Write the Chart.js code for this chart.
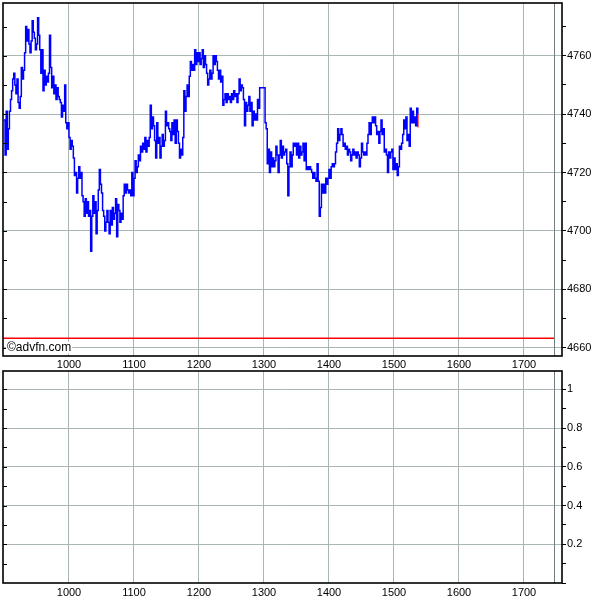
<!DOCTYPE html>
<html>
<head>
<meta charset="utf-8">
<script src="https://cdn.jsdelivr.net/npm/chart.js@4/dist/chart.umd.min.js"></script>
<style>
  html, body { margin: 0; padding: 0; background: #fff; }
  #wrap { position: relative; width: 600px; height: 600px; }
  canvas { position: absolute; left: 0; }
</style>
</head>
<body>
<div id="wrap">
  <canvas id="top" width="600" height="370" style="top:0"></canvas>
  <canvas id="bottom" width="600" height="230" style="top:370px"></canvas>
</div>
<script>
// ---- data (minutes since midnight on the x axis, one price per minute) ----
const startMinute = 540; // 09:00
const prices = [
  4738,4726,4741,4728,4735,4741,4745,4748,4752,4754,
  4750,4747,4752,4744,4742,4746,4756,4752,4755,4761,
  4770,4765,4769,4764,4761,4765,4772,4768,4766,4762,
  4764,4773,4767,4762,4754,4762,4748,4755,4750,4753,
  4751,4754,4767,4756,4749,4753,4747,4750,4745,4749,
  4746,4745,4744,4739,4743,4741,4750,4737,4735,4737,
  4732,4728,4731,4729,4725,4719,4720,4713,4718,4722,
  4718,4720,4712,4710,4705,4711,4706,4710,4705,4707,
  4693,4705,4712,4706,4710,4699,4707,4714,4721,4716,
  4713,4707,4705,4700,4703,4707,4703,4699,4707,4702,
  4708,4704,4706,4711,4698,4709,4707,4703,4706,4704,
  4712,4716,4713,4716,4714,4713,4714,4712,4720,4712,
  4718,4724,4720,4722,4726,4724,4729,4727,4730,4728,
  4732,4727,4731,4729,4732,4743,4735,4739,4736,4731,
  4725,4737,4730,4732,4725,4729,4733,4729,4731,4741,
  4736,4737,4735,4734,4731,4737,4733,4738,4730,4738,
  4734,4730,4725,4728,4726,4732,4748,4741,4746,4750,
  4746,4753,4758,4755,4757,4755,4762,4757,4761,4758,
  4761,4757,4759,4762,4756,4760,4757,4754,4750,4752,
  4755,4752,4754,4760,4757,4760,4758,4755,4752,4755,
  4751,4753,4743,4745,4747,4744,4747,4745,4746,4744,
  4747,4745,4748,4746,4747,4744,4747,4752,4748,4750,
  4749,4745,4736,4744,4741,4743,4746,4741,4744,4736,
  4741,4738,4740,4738,4745,4742,4749,4749,4749,4749,
  4749,4737,4735,4723,4728,4720,4727,4722,4725,4722,
  4724,4729,4726,4720,4726,4731,4725,4729,4726,4727,
  4728,4723,4712,4722,4727,4722,4726,4730,4729,4730,
  4726,4730,4725,4729,4726,4727,4730,4724,4730,4721,
  4722,4721,4722,4721,4720,4718,4720,4718,4717,4723,
  4717,4705,4708,4716,4713,4716,4713,4718,4716,4718,
  4721,4718,4722,4723,4722,4723,4727,4730,4735,4731,
  4733,4735,4733,4729,4730,4728,4729,4726,4728,4727,
  4724,4726,4728,4726,4727,4725,4727,4726,4722,4725,
  4730,4727,4726,4727,4726,4730,4733,4737,4733,4737,
  4739,4737,4739,4736,4733,4734,4730,4734,4738,4733,
  4735,4727,4728,4726,4720,4727,4725,4727,4728,4721,
  4725,4721,4723,4719,4722,4729,4728,4730,4733,4738,
  4735,4739,4731,4733,4729,4742,4737,4741,4737,4739,
  4736,4742,4740
];
const lastTick = [4740, 4735.5];       // final (red) trade
const previousClose = 4663.2;          // red reference line
const sessionEnd = 1048;               // dark vertical marker (minutes)
const hourTicks = [600, 660, 720, 780, 840, 900, 960, 1020];
const xRange = [539.08, 1055.08];
const priceRange = [4657.15, 4778.05];
const volumeRange = [0, 1.095];

// ---- styling ----
const GRID = '#aab6b6';
Chart.defaults.font.family = '"Liberation Sans", Arial, sans-serif';
Chart.defaults.font.size = 11;
Chart.defaults.color = '#000';

const hhmm = v => String(Math.floor(v / 60) * 100 + Math.round(v % 60));

const framePlugin = {
  id: 'frame',
  afterDatasetsDraw(chart, args, opts) {
    const { ctx, chartArea: a, scales } = chart;
    const x = scales.x, y = scales.y;
    ctx.save();
    // session end marker
    const sx = x.getPixelForValue(sessionEnd);
    ctx.strokeStyle = '#6f7f7f';
    ctx.lineWidth = 1;
    ctx.beginPath(); ctx.moveTo(Math.round(sx) + 0.5, a.top); ctx.lineTo(Math.round(sx) + 0.5, a.bottom); ctx.stroke();
    // inner left tick marks
    ctx.strokeStyle = '#000';
    for (let v = opts.tickStart; v <= y.max; v += opts.tickStep) {
      const py = Math.round(y.getPixelForValue(v)) + 0.5;
      if (py < a.top + 2 || py > a.bottom - 2) continue;
      ctx.beginPath(); ctx.moveTo(a.left, py); ctx.lineTo(a.left + 4, py); ctx.stroke();
    }
    // watermark
    if (opts.watermark) {
      ctx.font = '12px "Liberation Sans", Arial, sans-serif';
      const w = ctx.measureText(opts.watermark).width;
      const py = y.getPixelForValue(4660);
      ctx.fillStyle = '#fff';
      ctx.fillRect(a.left + 3, py - 6, w + 2, 12);
      ctx.fillStyle = '#000';
      ctx.textBaseline = 'middle';
      ctx.fillText(opts.watermark, a.left + 4, py + 0.5);
    }
    // frame
    ctx.strokeStyle = '#000';
    ctx.lineWidth = 1.6;
    ctx.strokeRect(a.left, a.top, a.right - a.left, a.bottom - a.top);
    ctx.restore();
  }
};

function xScale(height, pad) {
  return {
    type: 'linear', min: xRange[0], max: xRange[1],
    afterBuildTicks: s => { s.ticks = hourTicks.map(v => ({ value: v })); },
    ticks: { callback: v => hhmm(v), padding: pad, maxRotation: 0, autoSkip: false },
    grid: { color: GRID, drawTicks: false, lineWidth: 1 },
    border: { display: false },
    afterFit: s => { s.height = height; s.paddingLeft = 0; s.paddingRight = 0; }
  };
}

function yScale(range, step, isMajor, fmt) {
  return {
    type: 'linear', position: 'right', min: range[0], max: range[1],
    ticks: { stepSize: step, includeBounds: false, padding: 1, autoSkip: false,
             callback: v => isMajor(v) ? fmt(v) : '' },
    grid: { color: c => (c.tick && isMajor(c.tick.value)) ? GRID : 'rgba(0,0,0,0)',
            tickColor: '#000', tickLength: 4, lineWidth: 1 },
    border: { display: false },
    afterFit: s => { s.width = 38; s.paddingTop = 0; s.paddingBottom = 0; }
  };
}

const common = {
  responsive: false, animation: false, devicePixelRatio: 1,
  plugins: { legend: { display: false }, tooltip: { enabled: false } },
  events: []
};

new Chart(document.getElementById('top'), {
  type: 'line',
  data: {
    datasets: [
      { data: prices.map((v, i) => ({ x: startMinute + i, y: v })),
        borderColor: '#0000ff', borderWidth: 1.5, stepped: true, pointRadius: 0 },
      { data: lastTick.map(v => ({ x: startMinute + prices.length - 1, y: v })),
        borderColor: '#ff0000', borderWidth: 1.5, pointRadius: 0 },
      { data: [{ x: xRange[0], y: previousClose }, { x: sessionEnd, y: previousClose }],
        borderColor: '#ff0000', borderWidth: 1.5, pointRadius: 0 }
    ]
  },
  options: Object.assign({}, common, {
    layout: { padding: { left: 3, top: 3, right: 0, bottom: 0 } },
    scales: {
      x: xScale(14, 2),
      y: yScale(priceRange, 10, v => Math.round(v) % 20 === 0, v => String(Math.round(v)))
    },
    plugins: Object.assign({}, common.plugins, {
      frame: { tickStart: 4660, tickStep: 10, watermark: '\u00a9advfn.com' }
    })
  }),
  plugins: [framePlugin]
});

new Chart(document.getElementById('bottom'), {
  type: 'line',
  data: { datasets: [{ data: [], pointRadius: 0 }] },
  options: Object.assign({}, common, {
    layout: { padding: { left: 3, top: 1, right: 0, bottom: 0 } },
    scales: {
      x: xScale(17, 3),
      y: yScale(volumeRange, 0.1, v => { const k = Math.round(v * 10); return k > 0 && k % 2 === 0; },
                v => String(Math.round(v * 10) / 10))
    },
    plugins: Object.assign({}, common.plugins, {
      frame: { tickStart: 0, tickStep: 0.1 }
    })
  }),
  plugins: [framePlugin]
});
</script>
</body>
</html>
